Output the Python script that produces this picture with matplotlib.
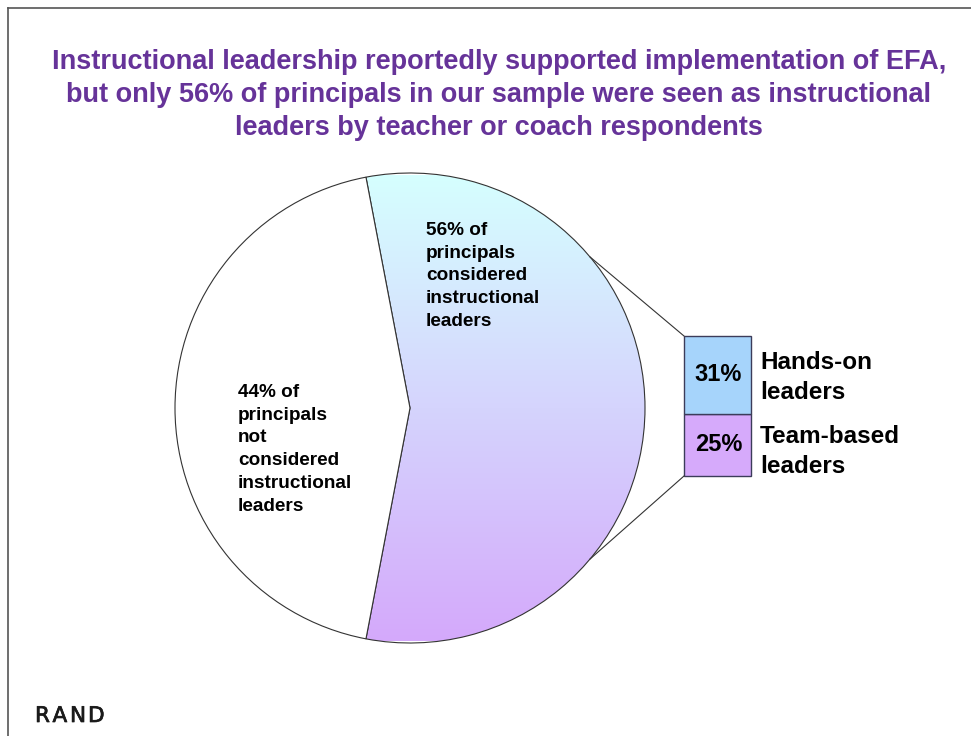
import matplotlib
matplotlib.use("Agg")
import matplotlib.pyplot as plt
import matplotlib.patheffects as pe
import numpy as np
from matplotlib.colors import LinearSegmentedColormap

plt.rcParams['font.family'] = ['Liberation Sans', 'DejaVu Sans']

# Data
pie_labels = ["56% of\nprincipals\nconsidered\ninstructional\nleaders",
              "44% of\nprincipals\nnot\nconsidered\ninstructional\nleaders"]
pie_values = [56, 44]
bar_labels = ["Team-based\nleaders", "Hands-on\nleaders"]
bar_values = [25, 31]
bar_pct = ["25%", "31%"]
title_lines = ["Instructional leadership reportedly supported implementation of EFA,",
               "but only 56% of principals in our sample were seen as instructional",
               "leaders by teacher or coach respondents"]

W, H = 971, 736
fig = plt.figure(figsize=(W / 100, H / 100), dpi=100)
ax = fig.add_axes([0, 0, 1, 1])
ax.set_xlim(0, W)
ax.set_ylim(0, H)
ax.set_aspect('equal')
ax.axis('off')

def Y(ypix):
    return H - ypix

# slide frame
ax.plot([8, 8], [0, Y(8)], color='#555555', lw=1.2)
ax.plot([8, W], [Y(8), Y(8)], color='#555555', lw=1.2)

# title
title_color = '#663399'
for i, line in enumerate(title_lines):
    ax.text(499, Y(62 + i * 33), line, ha='center', va='center',
            fontsize=19.5, fontweight='bold', color=title_color)

# pie
cx, cy, r = 410, Y(408), 235
half = pie_values[0] / 100 * 360 / 2
wedges, _ = ax.pie(pie_values, center=(cx, cy), radius=r, startangle=-half,
                   counterclock=True, colors=['none', 'white'],
                   wedgeprops=dict(edgecolor='#333333', linewidth=0.8),
                   frame=True)
ax.set_xlim(0, W)
ax.set_ylim(0, H)
ax.axis('off')

# gradient fill for 56% slice
cmap = LinearSegmentedColormap.from_list('g', ['#d6ffff', '#d4a9fb'])
grad = np.linspace(0, 1, 256).reshape(-1, 1)
top_y = cy + r * np.sin(np.radians(180 - half))
bot_y = cy - r * np.sin(np.radians(180 - half))
im = ax.imshow(grad, cmap=cmap, aspect='auto', origin='upper',
               extent=(cx - 60, cx + r + 5, bot_y - 2, top_y + 2), zorder=0.5)
im.set_clip_path(wedges[0])

# slice labels
ax.text(426, Y(222), pie_labels[0], ha='left', va='top', fontsize=13.7,
        fontweight='bold', linespacing=1.44)
ax.text(238, Y(384), pie_labels[1], ha='left', va='top', fontsize=13.7,
        fontweight='bold', linespacing=1.44)

# bar of pie
px_per_pct = 140 / sum(bar_values)
bar_x, bar_w = 717.5, 67
bar_bottom = Y(476)
bar_colors = ['#d6aafb', '#a6d4fb']
label_shift = [-7, -3]
bottoms = [bar_bottom, bar_bottom + bar_values[0] * px_per_pct]
for v, b, c, pct, lab, sh in zip(bar_values, bottoms, bar_colors, bar_pct,
                                 bar_labels, label_shift):
    ax.bar(bar_x, v * px_per_pct, bottom=b, width=bar_w, color=c,
           edgecolor='#3c3c5a', linewidth=1.0, zorder=2)
    mid = b + v * px_per_pct / 2
    ax.text(bar_x + 1, mid, pct, ha='center', va='center', fontsize=17,
            fontweight='bold', zorder=3)
    ax.text(760, mid + sh, lab, ha='left', va='center', fontsize=17.5,
            fontweight='bold', linespacing=1.41, zorder=3)

# connector lines
ang = np.radians(40)
top_bar = bar_bottom + sum(bar_values) * px_per_pct
ax.plot([cx + r * np.cos(ang), bar_x - bar_w / 2], [cy + r * np.sin(ang), top_bar],
        color='#333333', lw=0.8)
ax.plot([cx + r * np.cos(ang), bar_x - bar_w / 2], [cy - r * np.sin(ang), bar_bottom],
        color='#333333', lw=0.8)

# RAND logo text (slightly tracked)
x0 = 35
for ch, dx in zip("RAND", [0, 17.5, 35, 53]):
    ax.text(x0 + dx, Y(716), ch, ha='left', va='center', fontsize=15.5,
            color='#1a1a1a', family=['DejaVu Sans'],
            path_effects=[pe.withStroke(linewidth=0.5, foreground='#1a1a1a')])

fig.savefig('out.png', dpi=100)
